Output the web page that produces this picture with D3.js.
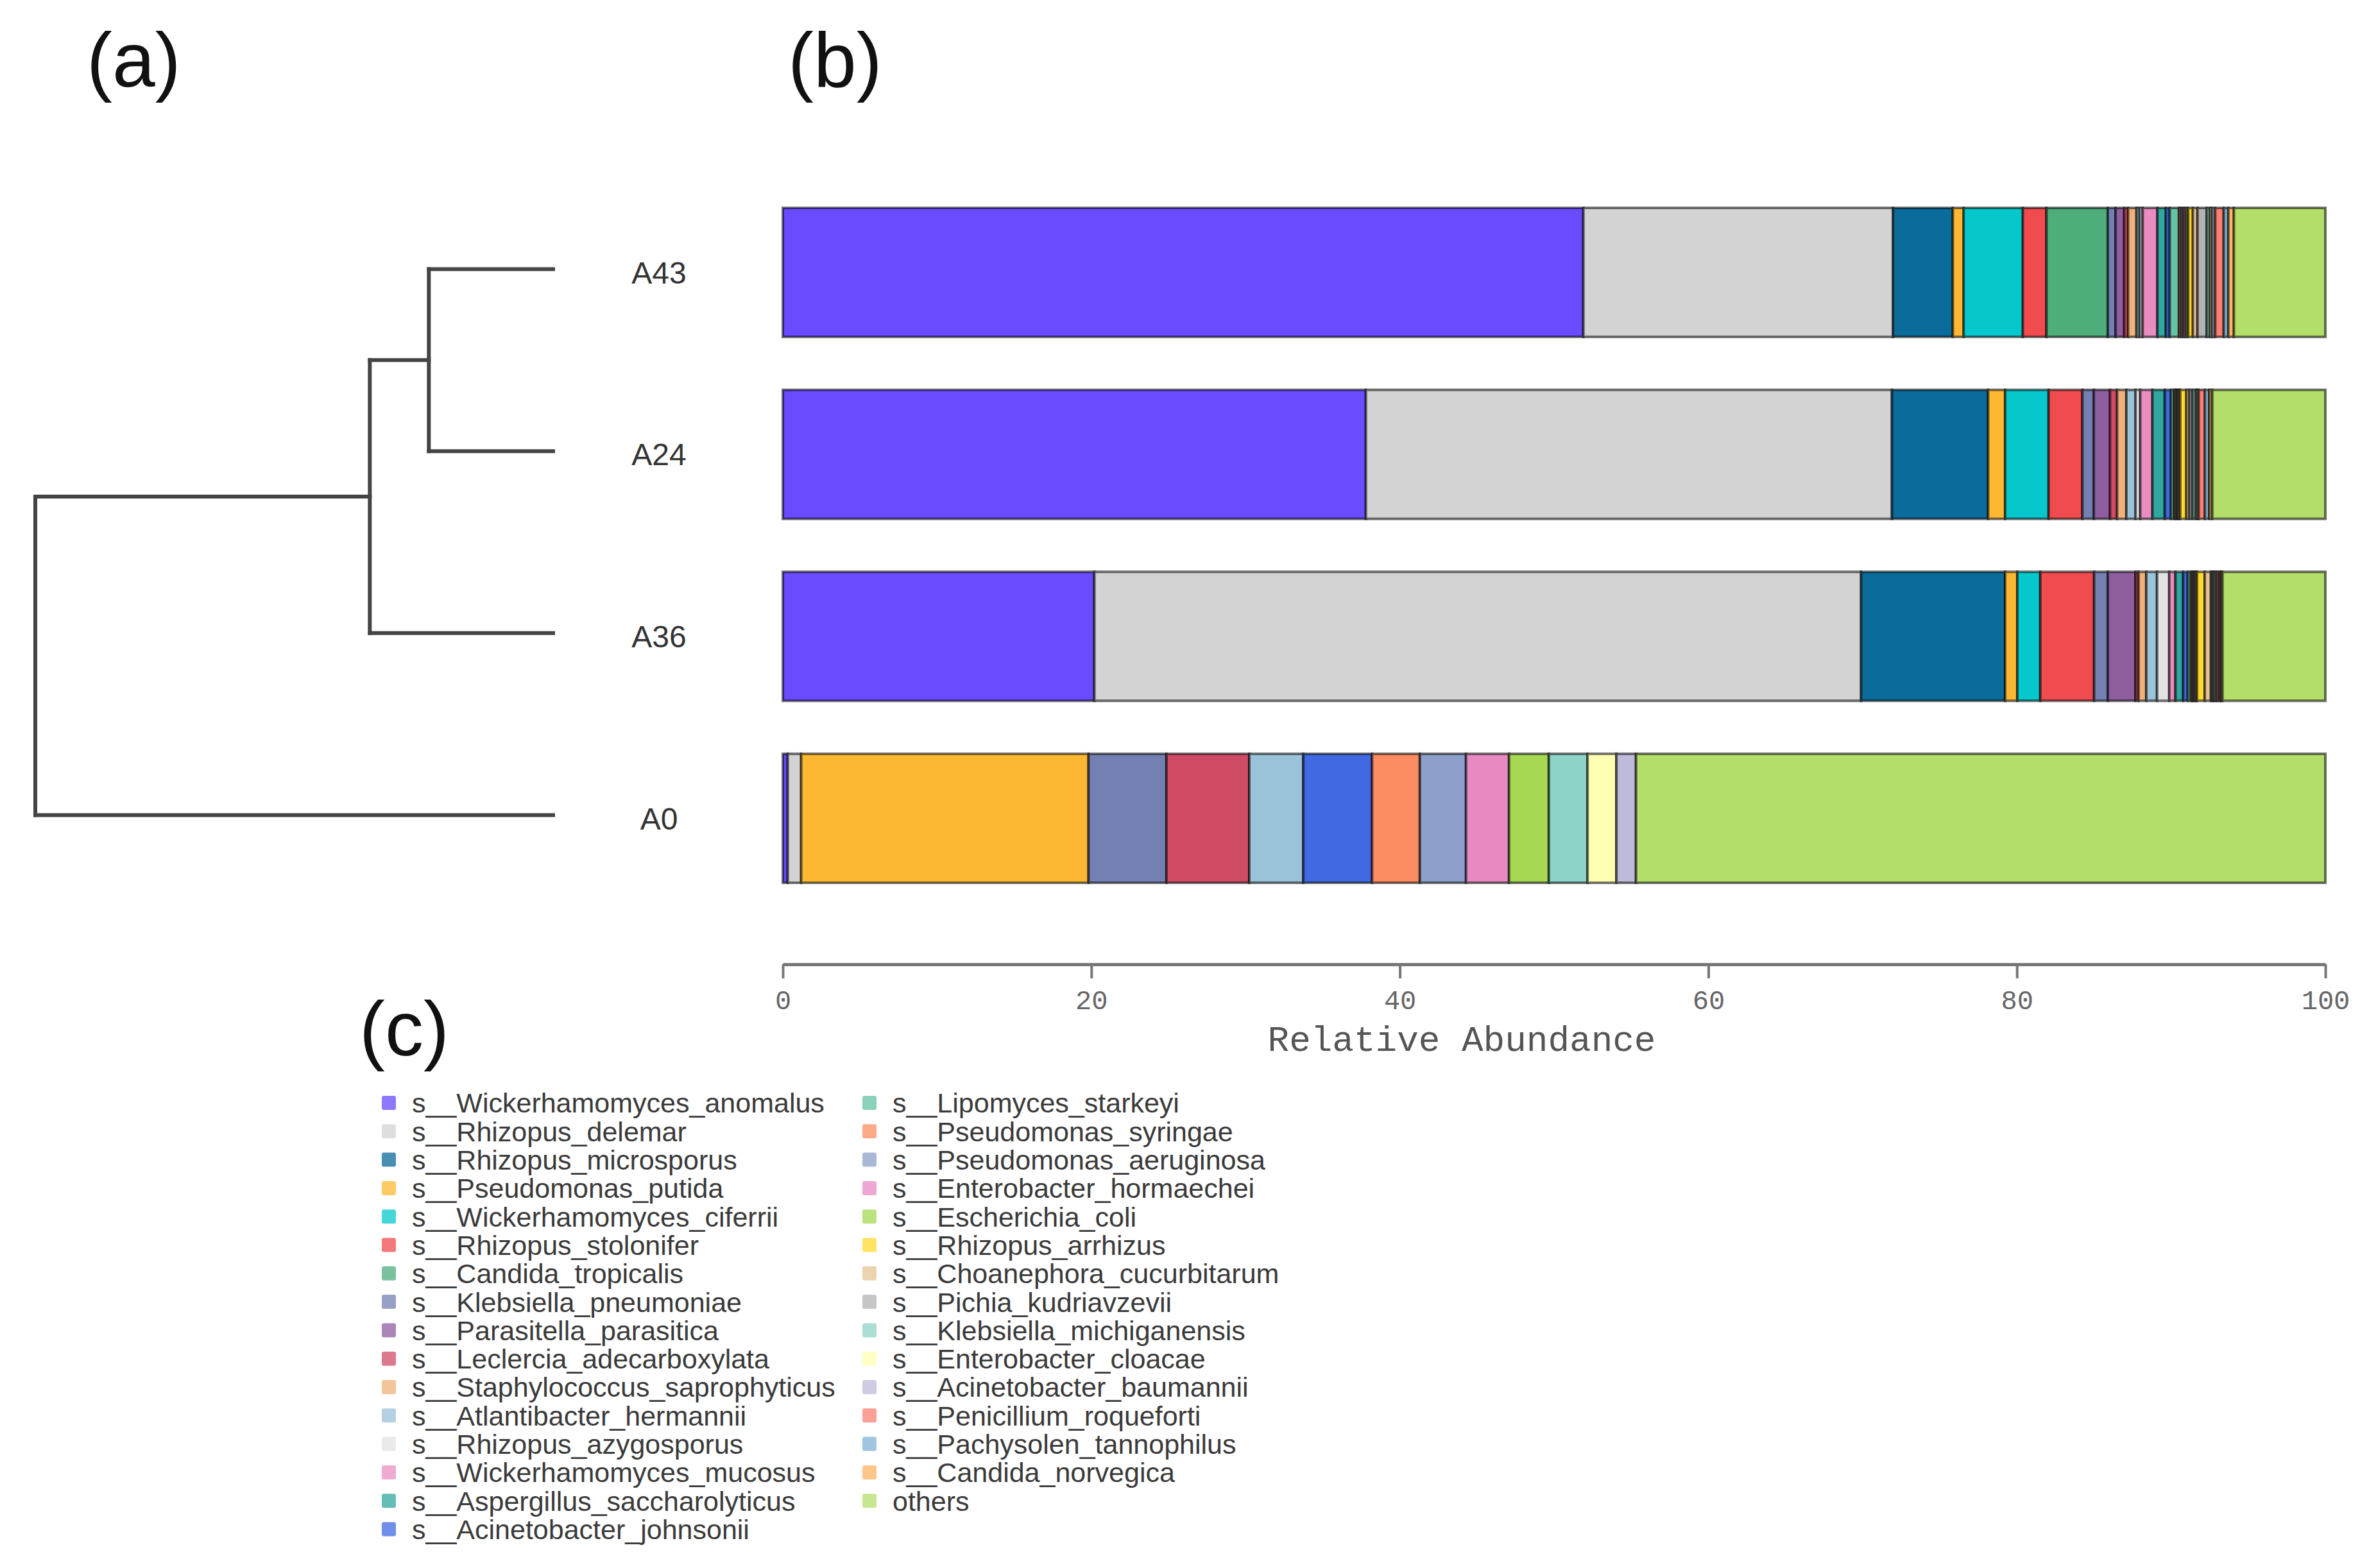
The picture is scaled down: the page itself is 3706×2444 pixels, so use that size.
<!DOCTYPE html>
<html>
<head>
<meta charset="utf-8">
<script src="https://cdn.jsdelivr.net/npm/d3@7"></script>
<style>
  body { margin: 0; background: #fff; }
  svg { display: block; }
</style>
</head>
<body>
<script>
const samples = ['A43', 'A24', 'A36', 'A0']

const species = [
  's__Wickerhamomyces_anomalus', 's__Rhizopus_delemar', 's__Rhizopus_microsporus', 's__Pseudomonas_putida',
  's__Wickerhamomyces_ciferrii', 's__Rhizopus_stolonifer', 's__Candida_tropicalis', 's__Klebsiella_pneumoniae',
  's__Parasitella_parasitica', 's__Leclercia_adecarboxylata', 's__Staphylococcus_saprophyticus', 's__Atlantibacter_hermannii',
  's__Rhizopus_azygosporus', 's__Wickerhamomyces_mucosus', 's__Aspergillus_saccharolyticus', 's__Acinetobacter_johnsonii',
  's__Lipomyces_starkeyi', 's__Pseudomonas_syringae', 's__Pseudomonas_aeruginosa', 's__Enterobacter_hormaechei',
  's__Escherichia_coli', 's__Rhizopus_arrhizus', 's__Choanephora_cucurbitarum', 's__Pichia_kudriavzevii',
  's__Klebsiella_michiganensis', 's__Enterobacter_cloacae', 's__Acinetobacter_baumannii', 's__Penicillium_roqueforti',
  's__Pachysolen_tannophilus', 's__Candida_norvegica', 'others'
]

// relative abundance (%) per sample, same order as species
const a43 = [51.9, 20.07, 3.88, 0.7, 3.84, 1.53, 3.98, 0.5, 0.56, 0.25, 0.55, 0.2, 0.2, 0.95, 0.55, 0.25,
  0.6, 0.15, 0.15, 0.15, 0.15, 0.3, 0.3, 0.6, 0.2, 0.15, 0.2, 0.55, 0.3, 0.36, 5.93]
const a24 = [37.8, 34.1, 6.24, 1.1, 2.82, 2.19, 0, 0.74, 1.05, 0.46, 0.6, 0.6, 0.3, 0.79, 0.8, 0.4,
  0.2, 0.1, 0.1, 0.1, 0.1, 0.4, 0.2, 0.2, 0.2, 0.1, 0.1, 0.4, 0.28, 0.2, 7.33]
const a36 = [20.2, 49.7, 9.34, 0.79, 1.49, 3.49, 0, 0.89, 1.79, 0.2, 0.5, 0.7, 0.79, 0.4, 0.5, 0.3,
  0.2, 0.1, 0.1, 0.1, 0.1, 0.5, 0.4, 0.1, 0.1, 0.1, 0.1, 0.15, 0.1, 0.1, 6.67]
const a0 = [0.32, 0.87, 0, 18.63, 0, 0, 0, 5.05, 0, 5.37, 0, 3.5, 0, 0, 0, 4.46,
  0, 3.1, 2.99, 2.79, 2.58, 0, 0, 0, 2.51, 1.87, 1.27, 0, 0, 0, 44.69]
const sampleValues = [a43, a24, a36, a0]

const xTicks = [0, 20, 40, 60, 80, 100]

// cluster tree (merge heights)
const tree = {
  height: 1.0,
  children: [
    { height: 0.354, children: [{ height: 0.24, children: [{ name: 'A43' }, { name: 'A24' }] }, { name: 'A36' }] },
    { name: 'A0' },
  ],
}

const palette = [
  '#6A4BFF', '#D3D3D3', '#0B6B9A', '#FDB833', '#06C8CC', '#F04C4F', '#4DAE7C', '#7580B2',
  '#8F5E9F', '#D04C66', '#EFB27A', '#9AC2D8', '#E3E3E3', '#E98DC0', '#30A89F', '#4169E1',
  '#66C2A5', '#FC8D62', '#8DA0CB', '#E78AC3', '#A6D854', '#FFD92F', '#E5C494', '#B3B3B3',
  '#8DD3C7', '#FFFFB3', '#BEBADA', '#FB8072', '#80B1D3', '#FDB462', '#B3DE69'
]

const width = 3706
const height = 2444

const svg = d3.select('body').append('svg').attr('width', width).attr('height', height)

const color = d3.scaleOrdinal().domain(species).range(palette)

const x = d3.scaleLinear().domain([0, 100]).range([1220, 3624])
const y = d3.scaleBand().domain(samples).range([324, 1376]).paddingInner(0.291).paddingOuter(0)

// stacked bars
const rows = samples.map((s, i) => {
  const r = { sample: s }
  species.forEach((k, j) => (r[k] = sampleValues[i][j]))
  return r
})
const series = d3.stack().keys(species)(rows)

svg
  .append('g')
  .selectAll('g')
  .data(series)
  .join('g')
  .attr('fill', d => color(d.key))
  .selectAll('rect')
  .data(d => d.filter(p => p[1] - p[0] > 0))
  .join('rect')
  .attr('x', d => x(d[0]))
  .attr('y', d => y(d.data.sample))
  .attr('width', d => x(d[1]) - x(d[0]))
  .attr('height', y.bandwidth())
  .attr('stroke', 'rgba(0,0,0,0.55)')
  .attr('stroke-width', 4)

// x axis
const xAxis = d3.axisBottom(x).tickValues(xTicks).tickSize(22).tickSizeOuter(0).tickPadding(18)
svg
  .append('g')
  .attr('transform', 'translate(0,1503)')
  .call(xAxis)
  .call(g => g.select('.domain').attr('stroke', '#777').attr('stroke-width', 5))
  .call(g => g.selectAll('.tick line').attr('stroke', '#777').attr('stroke-width', 4))
  .call(g => g.selectAll('.tick text').attr('fill', '#666').attr('font-size', 42).attr('font-family', '"Liberation Mono", monospace'))

svg
  .append('text')
  .attr('x', 2278)
  .attr('y', 1638)
  .attr('text-anchor', 'middle')
  .attr('font-family', '"Liberation Mono", monospace')
  .attr('font-size', 56)
  .attr('fill', '#555')
  .text('Relative Abundance')

// dendrogram
const dx = d3.scaleLinear().domain([0, 1]).range([862, 55])
const root = d3.hierarchy(tree)
root.eachAfter(n => {
  n.px = dx(n.data.height || 0)
  n.py = n.children ? d3.mean(n.children, c => c.py) : y(n.data.name) + y.bandwidth() / 2 - 5
})

const dendro = svg.append('g').attr('fill', 'none').attr('stroke', '#444').attr('stroke-width', 6).attr('stroke-linecap', 'square')
root.descendants().filter(n => n.children).forEach(n => {
  const ys = n.children.map(c => c.py)
  dendro.append('line').attr('x1', n.px).attr('x2', n.px).attr('y1', d3.min(ys)).attr('y2', d3.max(ys))
  n.children.forEach(c => {
    dendro.append('line').attr('x1', n.px).attr('x2', c.px).attr('y1', c.py).attr('y2', c.py)
  })
})

svg
  .append('g')
  .selectAll('text')
  .data(samples)
  .join('text')
  .attr('x', 1027)
  .attr('y', d => y(d) + y.bandwidth() / 2)
  .attr('dy', '0.36em')
  .attr('text-anchor', 'middle')
  .attr('font-family', '"Liberation Sans", Arial, sans-serif')
  .attr('font-size', 48)
  .attr('fill', '#333')
  .text(d => d)

// panel letters
const letters = [
  { t: '(a)', x: 135, y: 135 },
  { t: '(b)', x: 1228, y: 135 },
  { t: '(c)', x: 560, y: 1645 },
]
svg
  .append('g')
  .selectAll('text')
  .data(letters)
  .join('text')
  .attr('x', d => d.x)
  .attr('y', d => d.y)
  .attr('font-family', '"Liberation Sans", Arial, sans-serif')
  .attr('font-size', 120)
  .attr('fill', '#111')
  .text(d => d.t)

// legend
const perCol = 16
const rowStep = 44.3
const legend = svg
  .append('g')
  .selectAll('g')
  .data(species)
  .join('g')
  .attr('transform', (d, i) => {
    const col = Math.floor(i / perCol)
    const row = i % perCol
    return `translate(${col === 0 ? 606 : 1355},${1719 + row * rowStep})`
  })

legend
  .append('rect')
  .attr('x', -11)
  .attr('y', -11)
  .attr('width', 22)
  .attr('height', 22)
  .attr('rx', 3)
  .attr('fill', d => color(d))
  .attr('fill-opacity', 0.75)

legend
  .append('text')
  .attr('x', 36)
  .attr('dy', '0.36em')
  .attr('font-family', '"Liberation Sans", Arial, sans-serif')
  .attr('font-size', 43)
  .attr('fill', '#3a3a3a')
  .text(d => d)
</script>
</body>
</html>
